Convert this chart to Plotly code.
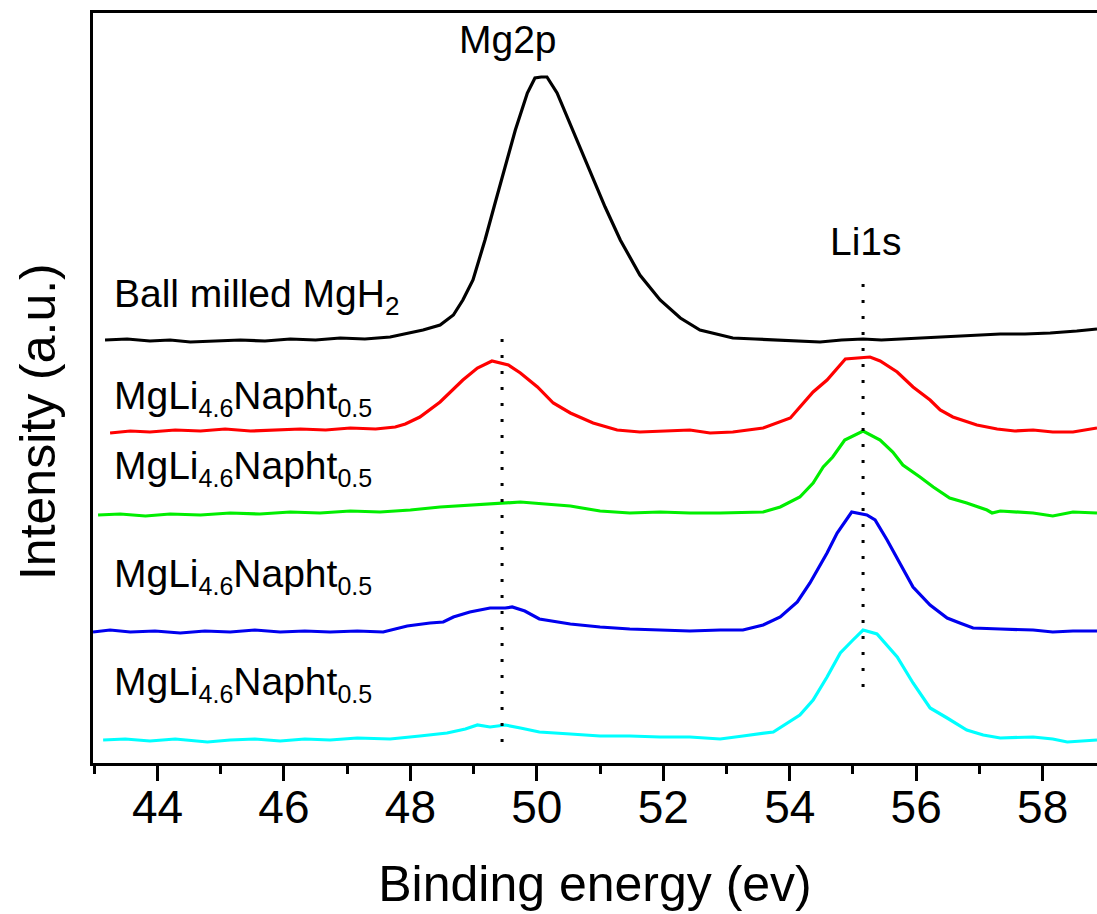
import plotly.graph_objects as go

# XPS spectra, stacked with vertical offsets (arbitrary units)
ball_milled_ev = [43.17, 43.52, 43.88, 44.20, 44.52, 44.92, 45.31, 45.70, 46.10, 46.50,
                  46.89, 47.28, 47.68, 48.20, 48.47, 48.68, 48.83, 48.99, 49.18, 49.34,
                  49.50, 49.66, 49.85, 49.97, 50.07, 50.16, 50.32, 50.57, 50.84, 51.08,
                  51.32, 51.63, 51.95, 52.27, 52.58, 53.10, 53.45, 53.85, 54.16, 54.48,
                  54.82, 55.16, 55.45, 55.74, 56.08, 56.42, 56.88, 57.33, 57.72, 58.12,
                  58.54, 58.86]
ball_milled_int = [423, 424, 422, 423, 421, 422, 423, 422, 424, 423,
                   425, 424, 426, 433, 438, 448, 463, 483, 523, 560,
                   598, 633, 670, 685, 686, 686, 670, 633, 591, 556,
                   523, 488, 463, 445, 433, 425, 424, 423, 422, 421,
                   423, 424, 423, 424, 425, 426, 428, 429, 429, 430,
                   432, 434]

red_ev = [43.25, 43.57, 43.88, 44.28, 44.68, 45.07, 45.47, 45.86, 46.26, 46.66,
          47.05, 47.45, 47.76, 47.92, 48.15, 48.47, 48.83, 49.06, 49.29, 49.55,
          49.74, 50.01, 50.26, 50.53, 50.89, 51.27, 51.63, 52.03, 52.42, 52.74,
          53.10, 53.58, 54.01, 54.37, 54.59, 54.88, 55.27, 55.43, 55.70, 55.95,
          56.22, 56.38, 56.58, 56.96, 57.28, 57.56, 57.85, 58.16, 58.48, 58.86]
red_int = [330, 332, 331, 333, 332, 334, 332, 333, 334, 333,
           335, 334, 336, 339, 346, 361, 383, 395, 402, 398,
           390, 376, 360, 350, 340, 333, 331, 332, 333, 330,
           331, 335, 345, 371, 383, 404, 406, 402, 391, 376,
           363, 353, 346, 338, 334, 332, 333, 331, 331, 335]

green_ev = [43.06, 43.41, 43.81, 44.20, 44.68, 45.15, 45.62, 46.10, 46.57, 47.05,
            47.52, 48.00, 48.47, 48.94, 49.26, 49.50, 49.74, 50.13, 50.53, 51.00,
            51.47, 51.95, 52.42, 52.90, 53.58, 53.85, 54.16, 54.37, 54.53, 54.68,
            54.87, 55.16, 55.43, 55.63, 55.79, 56.06, 56.27, 56.53, 56.80, 57.12,
            57.20, 57.33, 57.85, 58.16, 58.48, 58.86]
green_int = [248, 249, 247, 249, 248, 250, 249, 251, 250, 252,
             251, 253, 256, 258, 259, 260, 261, 259, 257, 252,
             250, 251, 250, 250, 251, 256, 266, 280, 296, 306,
             323, 332, 323, 311, 298, 286, 276, 265, 260, 253,
             250, 252, 250, 247, 251, 250]

blue_ev = [42.98, 43.25, 43.57, 43.96, 44.36, 44.75, 45.15, 45.54, 45.94, 46.33,
           46.73, 47.16, 47.57, 47.95, 48.31, 48.52, 48.68, 48.94, 49.26, 49.50,
           49.61, 49.81, 50.04, 50.53, 51.00, 51.47, 51.95, 52.42, 52.90, 53.26,
           53.58, 53.85, 54.12, 54.32, 54.59, 54.75, 54.98, 55.22, 55.35, 55.54,
           55.74, 55.95, 56.22, 56.49, 56.69, 56.90, 57.33, 57.85, 58.16, 58.48,
           58.86]
blue_int = [131, 133, 131, 132, 130, 132, 131, 133, 131, 132,
            131, 132, 131, 137, 140, 141, 146, 151, 155, 155,
            156, 152, 144, 139, 136, 134, 133, 132, 133, 133,
            138, 146, 161, 180, 210, 230, 251, 248, 243, 223,
            200, 176, 158, 145, 140, 135, 134, 133, 131, 132,
            132]

cyan_ev = [43.14, 43.49, 43.88, 44.28, 44.79, 45.15, 45.54, 45.94, 46.33, 46.73,
           47.16, 47.68, 48.15, 48.58, 48.87, 49.06, 49.26, 49.50, 49.74, 50.04,
           50.53, 51.00, 51.47, 51.95, 52.42, 52.90, 53.26, 53.74, 54.16, 54.37,
           54.59, 54.80, 55.00, 55.16, 55.38, 55.70, 55.95, 56.22, 56.49, 56.80,
           57.06, 57.33, 57.85, 58.16, 58.39, 58.86]
cyan_int = [23, 24, 22, 24, 21, 23, 24, 22, 24, 23,
            25, 24, 27, 30, 34, 38, 36, 38, 35, 31,
            29, 27, 27, 26, 26, 24, 27, 31, 48, 63,
            86, 110, 123, 133, 129, 106, 80, 55, 45, 33,
            28, 25, 26, 24, 21, 23]

series_names = ["Ball milled MgH2", "MgLi4.6Napht0.5 (1)", "MgLi4.6Napht0.5 (2)",
                "MgLi4.6Napht0.5 (3)", "MgLi4.6Napht0.5 (4)"]
series_ev = [ball_milled_ev, red_ev, green_ev, blue_ev, cyan_ev]
series_int = [ball_milled_int, red_int, green_int, blue_int, cyan_int]
series_colors = ["#000000", "#FF0000", "#00EE00", "#0000EE", "#00FFFF"]

# Reference lines marking the Mg2p and Li1s positions
peak_lines_ev = [49.45, 55.16]
peak_lines_span = [(21, 434), (76, 488)]

# Peak and sample labels
peak_labels = ["Mg2p", "Li1s"]
peak_label_ev = [49.55, 55.21]
peak_label_int = [724, 522]

sample_labels = ["Ball milled MgH<sub><span style=\"font-size:26px\">2</span></sub>"] + [
    "MgLi<sub><span style=\"font-size:25px\">4.6</span></sub>Napht<sub><span style=\"font-size:25px\">0.5</span></sub>"
] * 4
sample_label_int = [467, 365, 295, 187, 79]
sample_label_ev = 43.28

x_ticks = [44, 46, 48, 50, 52, 54, 56, 58]
x_minor_ticks = [43, 45, 47, 49, 51, 53, 55, 57]

FONT = "Liberation Sans, Arial, sans-serif"

fig = go.Figure()

for name, xs, ys, col in zip(series_names, series_ev, series_int, series_colors):
    fig.add_trace(go.Scatter(x=xs, y=ys, mode="lines", name=name,
                             line=dict(color=col, width=3.2)))

for xv, (y0, y1) in zip(peak_lines_ev, peak_lines_span):
    fig.add_trace(go.Scatter(x=[xv, xv], y=[y0, y1], mode="lines",
                             line=dict(color="black", width=3, dash="3px,13px"),
                             hoverinfo="skip"))

for txt, xv, yv in zip(peak_labels, peak_label_ev, peak_label_int):
    fig.add_annotation(x=xv, y=yv, xref="x", yref="y", text=txt, showarrow=False,
                       xanchor="center", yanchor="middle",
                       font=dict(family=FONT, size=39, color="black"))

for txt, yv in zip(sample_labels, sample_label_int):
    fig.add_annotation(x=sample_label_ev, y=yv, xref="x", yref="y", text=txt,
                       showarrow=False, xanchor="left", yanchor="middle",
                       font=dict(family=FONT, size=39, color="black"))

# Vertical axis title
fig.add_annotation(x=-0.0555, y=0.455, xref="paper", yref="paper",
                   text="Intensity (a.u.)", textangle=-90, showarrow=False,
                   xanchor="center", yanchor="middle",
                   font=dict(family=FONT, size=50, color="black"))

fig.update_layout(
    width=1097, height=914,
    margin=dict(l=93, r=0, t=13, b=151),
    paper_bgcolor="white", plot_bgcolor="white",
    showlegend=False,
    font=dict(family=FONT, color="black"),
    xaxis=dict(
        range=[42.98, 58.86],
        tickmode="array", tickvals=x_ticks,
        ticks="outside", ticklen=15, tickwidth=2.5, tickcolor="black",
        ticklabelstandoff=-13,
        minor=dict(tickmode="array", tickvals=x_minor_ticks, ticks="outside",
                   ticklen=8, tickwidth=2.5, tickcolor="black"),
        showline=True, linewidth=2.5, linecolor="black", mirror=True,
        showgrid=False, zeroline=False,
        tickfont=dict(family=FONT, size=46, color="black"),
        title=dict(text="Binding energy (ev)", font=dict(family=FONT, size=50, color="black"),
                   standoff=35),
    ),
    yaxis=dict(
        range=[0, 750],
        showticklabels=False, ticks="",
        showline=True, linewidth=2.5, linecolor="black", mirror=False,
        showgrid=False, zeroline=False,
    ),
)

fig.write_html("out.html")
